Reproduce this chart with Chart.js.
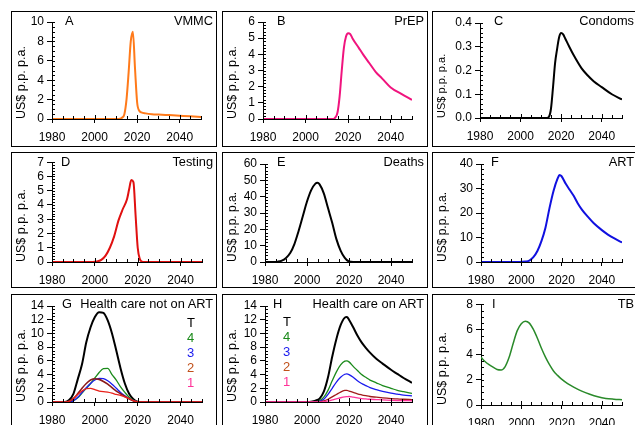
<!DOCTYPE html>
<html>
<head>
<meta charset="utf-8">
<script src="https://cdn.jsdelivr.net/npm/chart.js@4.4.1/dist/chart.umd.min.js"></script>
<style>
  body { margin: 0; background: #fff; }
  #figura { position: relative; width: 635px; height: 425px; overflow: hidden; background: #fff;
            font-family: "Liberation Sans", Arial, sans-serif; color: #000; }
  #figura canvas { position: absolute; }
  .caixa { position: absolute; width: 206px; height: 136px; border: 1.5px solid #000; box-sizing: border-box; }
  .txt { position: absolute; font-size: 12.8px; line-height: 14px; white-space: nowrap; }
</style>
</head>
<body>
<div id="figura"></div>
<script>
/* ===== DADOS ===== */
const anos_vmmc = [1980, 2011, 2012, 2013, 2014, 2015, 2016, 2017, 2018, 2019, 2020, 2021, 2022, 2024, 2027, 2030, 2035, 2040, 2045, 2050];
const vmmc      = [0, 0, 0.03, 0.15, 0.5, 2.0, 4.8, 8.0, 9.0, 5.2, 1.7, 0.85, 0.68, 0.58, 0.5, 0.46, 0.4, 0.34, 0.28, 0.2];

const anos_prep = [1980, 2013, 2014, 2015, 2016, 2017, 2018, 2019, 2020, 2021, 2022, 2025, 2027, 2030, 2033, 2036, 2040, 2045, 2050];
const prep      = [0, 0, 0.1, 0.4, 1.4, 3.0, 4.4, 5.1, 5.3, 5.25, 5.0, 4.4, 4.0, 3.45, 2.9, 2.5, 1.95, 1.55, 1.18];

const anos_condoms = [1980, 2013, 2014, 2015, 2016, 2017, 2018, 2019, 2020, 2021, 2022, 2024, 2026, 2030, 2033, 2036, 2040, 2045, 2050];
const condoms      = [0, 0, 0.005, 0.04, 0.13, 0.23, 0.29, 0.34, 0.358, 0.352, 0.335, 0.3, 0.267, 0.21, 0.18, 0.155, 0.13, 0.1, 0.078];

const anos_testing = [1980, 1999, 2001, 2003, 2005, 2007, 2009, 2011, 2013, 2015, 2016, 2017, 2018, 2019, 2020, 2021, 2022, 2023, 2050];
const testing      = [0, 0, 0.03, 0.15, 0.45, 1.0, 1.8, 2.9, 3.7, 4.4, 5.1, 5.75, 5.6, 3.3, 1.0, 0.2, 0.03, 0, 0];

const anos_deaths = [1980, 1984, 1986, 1988, 1990, 1992, 1994, 1996, 1998, 2000, 2002, 2004, 2005, 2006, 2008, 2010, 2012, 2014, 2016, 2018, 2020, 2022, 2050];
const deaths      = [0, 0, 0.2, 0.8, 2.5, 5.5, 11, 19, 28, 37, 44, 48, 48.5, 47.5, 42, 33, 24, 14, 7, 2.5, 0.3, 0, 0];

const anos_art = [1980, 1999, 2002, 2004, 2006, 2008, 2010, 2012, 2014, 2016, 2018, 2019, 2020, 2022, 2024, 2026, 2028, 2030, 2033, 2036, 2040, 2043, 2046, 2050];
const art      = [0, 0, 0.2, 0.6, 2, 4.5, 8.5, 14, 22, 29, 34, 35.5, 35, 32, 29.5, 27, 24, 21.5, 18.5, 15.8, 13, 11.2, 9.7, 8];

// G: cuidados de saude sem ART
const anos_sem_art = [1980, 1984, 1986, 1988, 1990, 1992, 1994, 1996, 1998, 2000, 2002, 2004, 2006, 2008, 2010, 2012, 2014, 2016, 2018, 2020, 2022, 2050];
const sem_art_T = [0, 0, 0, 0.3, 1.2, 3.3, 5.5, 8.7, 10.9, 12.4, 13.1, 13.0, 11.9, 10.0, 7.5, 4.9, 2.7, 1.2, 0.4, 0.05, 0, 0];
const sem_art_4 = [0, 0, 0, 0, 0.2, 0.6, 1.3, 2.0, 2.7, 3.5, 4.3, 4.85, 4.9, 4.0, 3.2, 2.2, 1.4, 0.7, 0.25, 0.02, 0, 0];
const sem_art_3 = [0, 0, 0, 0, 0.2, 0.7, 1.4, 2.1, 2.7, 3.2, 3.45, 3.4, 3.1, 2.6, 2.0, 1.4, 0.9, 0.5, 0.2, 0.02, 0, 0];
const sem_art_2 = [0, 0, 0, 0.1, 0.5, 1.2, 2.0, 2.7, 3.2, 3.4, 3.3, 3.0, 2.6, 2.1, 1.6, 1.2, 0.8, 0.45, 0.15, 0.02, 0, 0];
const sem_art_1 = [0, 0, 0, 0.1, 0.5, 1.1, 1.6, 1.95, 2.0, 1.8, 1.6, 1.5, 1.45, 1.3, 1.1, 0.95, 0.75, 0.5, 0.2, 0.02, 0, 0];

// H: cuidados de saude com ART
const anos_com_art = [1980, 2000, 2002, 2004, 2006, 2008, 2010, 2012, 2014, 2016, 2018, 2019, 2020, 2022, 2024, 2026, 2028, 2030, 2033, 2036, 2040, 2043, 2046, 2050];
const com_art_T = [0, 0, 0.05, 0.2, 0.5, 1.5, 3.6, 6.6, 9.2, 11.2, 12.3, 12.4, 12.0, 10.9, 9.7, 8.7, 7.9, 7.2, 6.3, 5.6, 4.7, 4.1, 3.5, 2.8];
const com_art_4 = [0, 0, 0, 0, 0.2, 0.7, 1.7, 3.1, 4.4, 5.4, 5.95, 6.0, 5.85, 5.2, 4.6, 4.0, 3.6, 3.2, 2.8, 2.4, 2.0, 1.7, 1.5, 1.25];
const com_art_3 = [0, 0, 0, 0, 0.1, 0.4, 1.1, 2.0, 2.9, 3.6, 4.05, 4.1, 4.0, 3.6, 3.1, 2.7, 2.4, 2.1, 1.8, 1.55, 1.3, 1.15, 1.0, 0.9];
const com_art_2 = [0, 0, 0, 0, 0.05, 0.15, 0.4, 0.75, 1.1, 1.45, 1.68, 1.7, 1.6, 1.4, 1.2, 1.05, 0.92, 0.8, 0.7, 0.6, 0.5, 0.45, 0.4, 0.35];
const com_art_1 = [0, 0, 0, 0, 0, 0.05, 0.15, 0.3, 0.45, 0.62, 0.75, 0.78, 0.8, 0.7, 0.6, 0.5, 0.45, 0.4, 0.35, 0.3, 0.25, 0.22, 0.2, 0.18];

const anos_tb = [1980, 1982, 1984, 1986, 1988, 1990, 1992, 1994, 1996, 1998, 2000, 2002, 2004, 2006, 2008, 2010, 2012, 2014, 2016, 2018, 2020, 2023, 2026, 2030, 2034, 2038, 2042, 2046, 2050];
const tb      = [3.8, 3.45, 3.2, 3.0, 2.82, 2.78, 3.05, 3.8, 4.9, 5.9, 6.45, 6.65, 6.5, 6.0, 5.3, 4.5, 3.8, 3.2, 2.7, 2.35, 2.05, 1.7, 1.42, 1.1, 0.85, 0.65, 0.52, 0.46, 0.42];

const legenda_txt = ['T', '4', '3', '2', '1'];

/* ===== PAINEIS ===== */
const FONTE = '"Liberation Sans", Arial, sans-serif';
const COL = [11, 222, 432];
const LIN = [11, 152, 294];

// area = [esquerda, direita, topo, base] do grafico em px absolutos
const paineis = [
  { letra: 'A', nome: 'VMMC', c: 0, l: 0, area: [52, 201, 22, 119], y_max: 10, y_passo: 2, y_menor: 0.5, letra_x: 54,
    series: [{ anos: anos_vmmc, v: vmmc, cor: '#ff7a1a', w: 2 }] },
  { letra: 'B', nome: 'PrEP', c: 1, l: 0, area: [263, 412, 22, 119], y_max: 6, y_passo: 1, y_menor: 0.2, letra_x: 55,
    series: [{ anos: anos_prep, v: prep, cor: '#f0147e', w: 2 }] },
  { letra: 'C', nome: 'Condoms', c: 2, l: 0, area: [480, 622, 23, 118], y_max: 0.4, y_passo: 0.1, y_menor: 0.02, casas: 1, letra_x: 62, titulo_px: 11,
    series: [{ anos: anos_condoms, v: condoms, cor: '#000', w: 2 }] },
  { letra: 'D', nome: 'Testing', c: 0, l: 1, area: [52, 202, 162, 262], y_max: 7, y_passo: 1, y_menor: 0.2, letra_x: 50,
    series: [{ anos: anos_testing, v: testing, cor: '#e01010', w: 2 }] },
  { letra: 'E', nome: 'Deaths', c: 1, l: 1, area: [265, 412, 164, 262], y_max: 60, y_passo: 10, y_menor: 2, letra_x: 55, titulo_px: 12,
    series: [{ anos: anos_deaths, v: deaths, cor: '#000', w: 2 }] },
  { letra: 'F', nome: 'ART', c: 2, l: 1, area: [481, 622, 164, 262], y_max: 40, y_passo: 10, y_menor: 2, letra_x: 59, titulo_px: 12,
    series: [{ anos: anos_art, v: art, cor: '#1010e0', w: 2 }] },
  { letra: 'G', nome: 'Health care not on ART', c: 0, l: 2, area: [52, 202, 306, 402], y_max: 14, y_passo: 2, y_menor: 0.5, letra_x: 51,
    legenda: { x: 187, y: 316, cores: ['#000', '#1a8a1a', '#1a1aee', '#c0501a', '#ff3399'] },
    series: [
      { anos: anos_sem_art, v: sem_art_1, cor: '#e8201a', w: 1.3 },
      { anos: anos_sem_art, v: sem_art_2, cor: '#8b1a1a', w: 1.6 },
      { anos: anos_sem_art, v: sem_art_3, cor: '#1a1aee', w: 1.3 },
      { anos: anos_sem_art, v: sem_art_4, cor: '#1a8a1a', w: 1.3 },
      { anos: anos_sem_art, v: sem_art_T, cor: '#000', w: 2 }] },
  { letra: 'H', nome: 'Health care on ART', c: 1, l: 2, area: [265, 412, 306, 402], y_max: 14, y_passo: 2, y_menor: 0.5, letra_x: 51,
    legenda: { x: 283, y: 315, cores: ['#000', '#1a8a1a', '#1a1aee', '#c0501a', '#ff3399'] },
    series: [
      { anos: anos_com_art, v: com_art_1, cor: '#ff3399', w: 1.3 },
      { anos: anos_com_art, v: com_art_2, cor: '#a01a1a', w: 1.3 },
      { anos: anos_com_art, v: com_art_3, cor: '#1a1aee', w: 1.3 },
      { anos: anos_com_art, v: com_art_4, cor: '#1a8a1a', w: 1.3 },
      { anos: anos_com_art, v: com_art_T, cor: '#000', w: 2 }] },
  { letra: 'I', nome: 'TB', c: 2, l: 2, area: [481, 622, 304, 405], y_max: 8, y_passo: 2, y_menor: 0.5, letra_x: 60,
    series: [{ anos: anos_tb, v: tb, cor: '#2a8a2a', w: 1.5 }] },
];

/* ===== MARCAS MENORES ===== */
const marcas = {
  id: 'marcas',
  afterDraw(chart, args, opts) {
    const ctx = chart.ctx;
    const x = chart.scales.x, y = chart.scales.y;
    ctx.save();
    ctx.strokeStyle = '#000';
    ctx.lineWidth = 1;
    ctx.beginPath();
    for (let ano = 1980; ano <= 2050; ano += 5) {
      const px = Math.round(x.getPixelForValue(ano)) + 0.5;
      ctx.moveTo(px, y.bottom);
      ctx.lineTo(px, y.bottom - (ano % 20 === 0 ? 4 : 3));
    }
    const n = Math.round(y.max / opts.passo);
    for (let i = 0; i <= n; i++) {
      const py = Math.round(y.getPixelForValue(i * opts.passo)) + 0.5;
      ctx.moveTo(x.left, py);
      ctx.lineTo(x.left + 3, py);
    }
    ctx.stroke();
    ctx.restore();
  }
};

/* ===== GRAFICOS ===== */
const figura = document.getElementById('figura');

function cria_elemento(tag, cls, estilo, texto) {
  const el = document.createElement(tag);
  if (cls) el.className = cls;
  Object.assign(el.style, estilo);
  if (texto !== undefined) el.textContent = texto;
  figura.appendChild(el);
  return el;
}

function monta_painel(p) {
  const bx = COL[p.c], by = LIN[p.l];
  const [L, R, T, B] = p.area;

  const canvas = cria_elemento('canvas', null, { left: bx + 'px', top: by + 'px' });
  canvas.width = 206;
  canvas.height = 136;

  const fonte_ticks = { family: FONTE, size: 12 };

  new Chart(canvas, {
    type: 'line',
    data: {
      datasets: p.series.map(s => ({
        data: s.anos.map((ano, i) => ({ x: ano, y: s.v[i] })),
        borderColor: s.cor,
        borderWidth: s.w,
        pointRadius: 0,
        fill: false,
        cubicInterpolationMode: 'monotone'
      }))
    },
    options: {
      responsive: false,
      animation: false,
      events: [],
      layout: { padding: { top: T - by, right: bx + 206 - R, left: 0, bottom: 0 } },
      plugins: { legend: { display: false }, tooltip: { enabled: false }, marcas: { passo: p.y_menor } },
      scales: {
        x: {
          type: 'linear', min: 1980, max: 2050,
          afterFit: s => { s.height = by + 136 - B; },
          ticks: { stepSize: 20, includeBounds: false, autoSkip: false, maxRotation: 0, color: '#000',
                   font: fonte_ticks, padding: 7, callback: v => v },
          grid: { drawOnChartArea: false, tickLength: 4, tickColor: '#000' },
          border: { color: '#000', width: 1 }
        },
        y: {
          min: 0, max: p.y_max,
          afterFit: s => { s.width = L - bx; },
          ticks: { stepSize: p.y_passo, autoSkip: false, color: '#000', font: fonte_ticks, padding: 3,
                   callback: v => (p.casas ? v.toFixed(p.casas) : v) },
          grid: { drawOnChartArea: false, tickLength: 5, tickColor: '#000' },
          border: { color: '#000', width: 1 },
          title: { display: true, text: 'US$ p.p. p.a.', align: 'start', color: '#000',
                   font: { family: FONTE, size: p.titulo_px || 12.5 }, padding: { top: 3, bottom: 0 } }
        }
      }
    },
    plugins: [marcas]
  });

  cria_elemento('div', 'caixa', { left: bx + 'px', top: by + 'px' });
  cria_elemento('div', 'txt', { left: (bx + p.letra_x) + 'px', top: (by + 3) + 'px' }, p.letra);
  cria_elemento('div', 'txt', { right: (635 - (bx + 202)) + 'px', top: (by + 3) + 'px' }, p.nome);

  if (p.legenda) {
    legenda_txt.forEach((t, i) => {
      cria_elemento('div', 'txt', { left: p.legenda.x + 'px', top: (p.legenda.y + i * 15) + 'px',
                                    color: p.legenda.cores[i], fontSize: '13px' }, t);
    });
  }
}

paineis.forEach(monta_painel);
</script>
</body>
</html>
